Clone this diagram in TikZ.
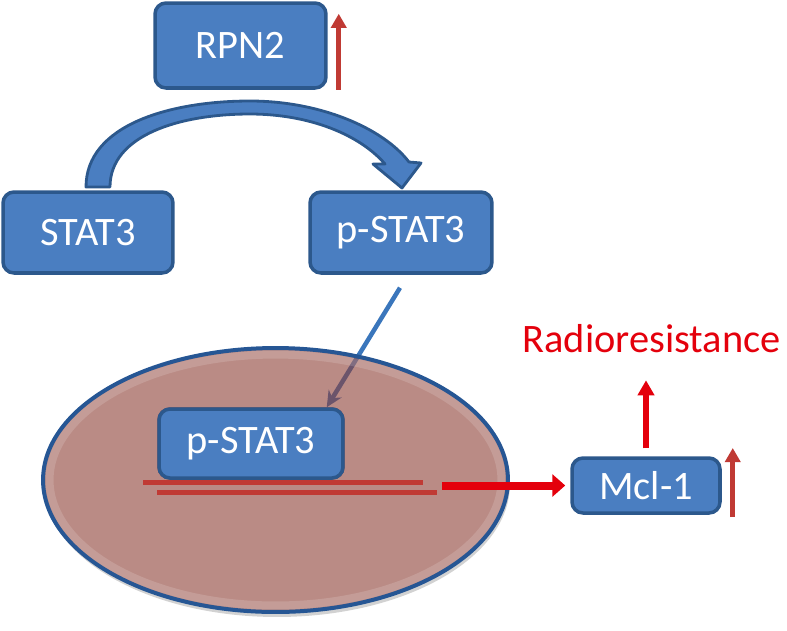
\documentclass[tikz,border=0pt]{standalone}
\usepackage{fontspec}
\setmainfont{Carlito}
\usepackage{xcolor}
\usetikzlibrary{arrows.meta}

\definecolor{boxblue}{RGB}{74,126,193}
\definecolor{boxline}{RGB}{44,88,140}
\definecolor{nucfill}{RGB}{140,62,53}
\definecolor{nucline}{RGB}{38,86,148}
\definecolor{darkred}{RGB}{192,58,52}
\definecolor{brightred}{RGB}{228,0,12}
\definecolor{thinblue}{RGB}{58,118,188}

\begin{document}
\begin{tikzpicture}[x=0.02cm,y=-0.02cm,
  box/.style={draw=boxline,fill=boxblue,line width=2pt,rounded corners=0.22cm,
    text=white,font=\fontsize{23}{27}\selectfont,inner sep=0pt},
  uparrow/.style={darkred,line width=0.1cm,-{Triangle[length=0.28cm,width=0.3cm]}},
  dna/.style={darkred,line width=0.1cm}]
\useasboundingbox (0,0) rectangle (787,630);

\node[box,minimum width=3.42cm,minimum height=1.7cm] (rpn) at (240.5,45.5) {RPN2};
\draw[uparrow] ([xshift=0.22cm]rpn.south east) -- ++(0,-76);

\node[box,minimum width=3.4cm,minimum height=1.62cm] (stat) at (88,232.5) {STAT3};

\node[box,minimum width=3.64cm,minimum height=1.62cm] (pstat) at (401,232.5) {p-STAT3};

% curved arrow
\filldraw[fill=boxblue,draw=boxline,line width=1.6pt,line join=round]
  (86,187) .. controls (86,125) and (170,101) .. (250,101)
  .. controls (320,101) and (383,128) .. (409,162) -- (421,163) -- (402,188)
  -- (373,164) -- (385,164) .. controls (360,135) and (310,114) .. (250,114)
  .. controls (180,114) and (110,135) .. (110,187) -- cycle;

% nucleus
\fill[gray!35] (277,484) ellipse [x radius=4.66cm,y radius=2.66cm];
\fill[white] (275.5,480) ellipse [x radius=4.65cm,y radius=2.64cm];

\node[box,minimum width=3.68cm,minimum height=1.38cm] (npstat) at (251,443.5) {p-STAT3};

\draw[thinblue,line width=0.09cm,-{Stealth[length=0.32cm,width=0.3cm]}]
  ([xshift=-0.02cm,yshift=-0.26cm]pstat.south) -- ([xshift=-0.36cm]npstat.north east);

\filldraw[fill=nucfill,fill opacity=0.6,draw=nucline,line width=0.08cm]
  (275.5,480) ellipse [x radius=4.65cm,y radius=2.64cm];
\draw[white,opacity=0.15,line width=0.16cm]
  (275.5,480) ellipse [x radius=4.52cm,y radius=2.51cm];

\node[box,minimum width=3.68cm,minimum height=1.38cm] at (251,443.5) {p-STAT3};

\draw[dna] (143,482) -- (423,482);
\draw[dna] (157,492) -- (437,492);

\node[box,minimum width=2.96cm,minimum height=1.1cm] (mcl) at (646,485.5) {Mcl-1};

\coordinate (dnaend) at (442,485.5);
\draw[brightred,line width=0.16cm,shorten >=0.1cm,-{Triangle[length=0.26cm,width=0.44cm]}]
  (dnaend) -- (mcl.west);

\node[brightred,anchor=base,font=\fontsize{23}{27}\selectfont,inner sep=0pt] (radio)
  at (651.5,352) {Radioresistance};
\draw[brightred,line width=0.12cm,-{Triangle[length=0.3cm,width=0.32cm]}]
  ([yshift=0.16cm]mcl.north) -- ++(0,-68);

\draw[uparrow] ([xshift=0.22cm,yshift=-0.63cm]mcl.east) -- ++(0,-69);

\end{tikzpicture}
\end{document}
